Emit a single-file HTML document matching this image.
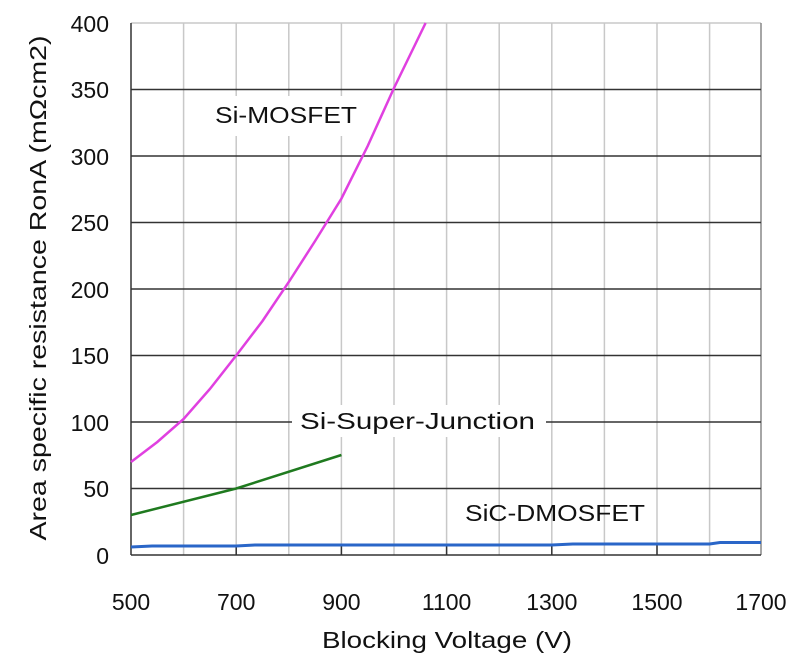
<!DOCTYPE html>
<html><head><meta charset="utf-8"><style>
html,body{margin:0;padding:0;background:#fff;}
svg{display:block;font-family:"Liberation Sans",sans-serif;}
</style></head><body>
<svg width="800" height="660" viewBox="0 0 800 660" xmlns="http://www.w3.org/2000/svg">
<rect width="800" height="660" fill="#fff"/>
<g stroke="#c8c8c8" stroke-width="1.5">
<line x1="183.6" y1="23" x2="183.6" y2="555"/>
<line x1="236.2" y1="23" x2="236.2" y2="555"/>
<line x1="288.8" y1="23" x2="288.8" y2="555"/>
<line x1="341.4" y1="23" x2="341.4" y2="555"/>
<line x1="394" y1="23" x2="394" y2="555"/>
<line x1="446.6" y1="23" x2="446.6" y2="555"/>
<line x1="499.2" y1="23" x2="499.2" y2="555"/>
<line x1="551.8" y1="23" x2="551.8" y2="555"/>
<line x1="604.4" y1="23" x2="604.4" y2="555"/>
<line x1="657" y1="23" x2="657" y2="555"/>
<line x1="709.6" y1="23" x2="709.6" y2="555"/>
<line x1="131" y1="23" x2="761" y2="23"/>
</g>
<line x1="761" y1="23" x2="761" y2="555" stroke="#888" stroke-width="1.5"/>
<rect x="200" y="96" width="170" height="40" fill="#fff"/>
<rect x="292" y="405" width="254" height="32" fill="#fff"/>
<g stroke="#333" stroke-width="1.5">
<line x1="131" y1="488.5" x2="761" y2="488.5"/>
<line x1="131" y1="422" x2="292" y2="422"/>
<line x1="546" y1="422" x2="761" y2="422"/>
<line x1="131" y1="355.5" x2="761" y2="355.5"/>
<line x1="131" y1="289" x2="761" y2="289"/>
<line x1="131" y1="222.5" x2="761" y2="222.5"/>
<line x1="131" y1="156" x2="761" y2="156"/>
<line x1="131" y1="89.5" x2="761" y2="89.5"/>
<line x1="131" y1="23" x2="131" y2="555"/>
<line x1="131" y1="555" x2="761" y2="555"/>
<line x1="236.2" y1="545" x2="236.2" y2="555"/>
<line x1="341.4" y1="545" x2="341.4" y2="555"/>
<line x1="446.6" y1="545" x2="446.6" y2="555"/>
<line x1="551.8" y1="545" x2="551.8" y2="555"/>
<line x1="657" y1="545" x2="657" y2="555"/>
</g>
<polyline fill="none" stroke="#e040e0" stroke-width="2.5" points="131,462 157.3,442 183.6,419 209.9,389 236.2,355.5 262.5,321 288.8,282 315.1,241 341.4,198.6 367.7,146 394,88 425.6,23"/>
<polyline fill="none" stroke="#1f7a1f" stroke-width="2.5" points="131,515 236.2,488.5 341.4,455"/>
<polyline fill="none" stroke="#2a66c8" stroke-width="3" points="131,547 152,546 236,546 255,545 551.8,545 572.8,544 709.6,544 720,542.5 761,542.5"/>
<g font-size="23" fill="#111">
<text x="215" y="123" textLength="142" lengthAdjust="spacingAndGlyphs">Si-MOSFET</text>
<text x="300" y="429" textLength="235" lengthAdjust="spacingAndGlyphs">Si-Super-Junction</text>
<text x="465" y="521" textLength="180" lengthAdjust="spacingAndGlyphs">SiC-DMOSFET</text>
</g>
<g font-size="23" fill="#111" text-anchor="end">
<text x="109" y="32">400</text>
<text x="109" y="98">350</text>
<text x="109" y="165">300</text>
<text x="109" y="231">250</text>
<text x="109" y="298">200</text>
<text x="109" y="364">150</text>
<text x="109" y="431">100</text>
<text x="109" y="497">50</text>
<text x="109" y="564">0</text>
</g>
<g font-size="23" fill="#111" text-anchor="middle">
<text x="131" y="610">500</text>
<text x="236.2" y="610">700</text>
<text x="341.4" y="610">900</text>
<text x="446.6" y="610">1100</text>
<text x="551.8" y="610">1300</text>
<text x="657" y="610">1500</text>
<text x="761" y="610">1700</text>
<text x="447" y="648" textLength="250" lengthAdjust="spacingAndGlyphs">Blocking Voltage (V)</text>
<text transform="translate(46,288) rotate(-90)" textLength="505" lengthAdjust="spacingAndGlyphs">Area specific resistance RonA (mΩcm2)</text>
</g>
</svg>
</body></html>
